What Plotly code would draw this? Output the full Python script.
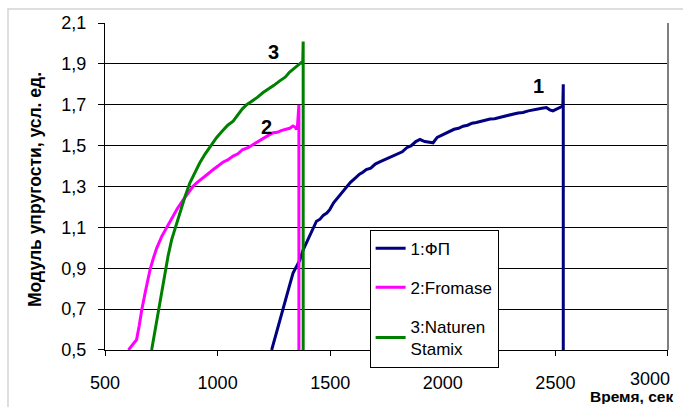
import plotly.graph_objects as go

# ---- data ----
s1_name = "1:ФП"
s1_x = [1240, 1255, 1270, 1284, 1300, 1318, 1335, 1350, 1365, 1380, 1395, 1410, 1425, 1439,
        1455, 1470, 1485, 1498, 1515, 1530, 1550, 1572, 1590, 1610, 1630, 1645, 1660, 1680,
        1700, 1720, 1740, 1760, 1779, 1800, 1820, 1840, 1860, 1880, 1899, 1920, 1940, 1957,
        1975, 1995, 2012, 2031, 2050, 2070, 2090, 2110, 2130, 2149, 2170, 2190, 2210, 2230,
        2252, 2275, 2295, 2315, 2335, 2356, 2380, 2400, 2420, 2440, 2460, 2475, 2489, 2505,
        2520, 2533, 2535, 2535]
s1_y = [0.50, 0.56, 0.62, 0.68, 0.75, 0.81, 0.876, 0.91, 0.94, 0.99, 1.024, 1.06, 1.10, 1.13,
        1.14, 1.16, 1.17, 1.187, 1.22, 1.24, 1.27, 1.30, 1.32, 1.34, 1.36, 1.37, 1.383, 1.39,
        1.41, 1.42, 1.43, 1.44, 1.449, 1.46, 1.47, 1.49, 1.50, 1.52, 1.53, 1.52, 1.515, 1.514,
        1.54, 1.55, 1.56, 1.572, 1.58, 1.585, 1.595, 1.60, 1.61, 1.613, 1.62, 1.625, 1.63, 1.632,
        1.637, 1.645, 1.65, 1.655, 1.66, 1.662, 1.67, 1.675, 1.68, 1.683, 1.686, 1.675, 1.67, 1.68,
        1.69, 1.694, 1.80, 0.50]

s2_name = "2:Fromase"
s2_x = [604, 620, 640, 652, 663, 680, 700, 715, 730, 752, 775, 796, 820, 848, 870, 890, 907,
        930, 955, 981, 1000, 1025, 1045, 1069, 1090, 1110, 1135, 1158, 1180, 1205, 1225, 1247,
        1265, 1285, 1306, 1320, 1335, 1345, 1350, 1355, 1361, 1361]
s2_y = [0.50, 0.52, 0.55, 0.62, 0.696, 0.79, 0.893, 0.95, 1.00, 1.056, 1.10, 1.146, 1.19, 1.236,
        1.27, 1.30, 1.318, 1.34, 1.36, 1.383, 1.40, 1.42, 1.43, 1.449, 1.46, 1.48, 1.49, 1.506,
        1.52, 1.535, 1.55, 1.563, 1.565, 1.575, 1.58, 1.585, 1.596, 1.59, 1.58, 1.60, 1.70, 0.50]

s3_name = "3:Naturen<br>Stamix"
s3_x = [707, 720, 736, 750, 766, 780, 796, 812, 833, 855, 877, 900, 921, 945, 970, 995, 1020,
        1045, 1069, 1090, 1110, 1129, 1150, 1175, 1202, 1225, 1250, 1276, 1300, 1320, 1335, 1355,
        1372, 1378, 1380, 1380]
s3_y = [0.50, 0.58, 0.68, 0.78, 0.876, 0.96, 1.04, 1.10, 1.17, 1.25, 1.318, 1.37, 1.416, 1.46,
        1.50, 1.539, 1.57, 1.60, 1.62, 1.65, 1.68, 1.70, 1.715, 1.735, 1.76, 1.775, 1.795, 1.817,
        1.835, 1.86, 1.874, 1.89, 1.907, 1.90, 2.01, 0.50]

x_ticks = [500, 1000, 1500, 2000, 2500, 3000]
x_ticktext = ["500", "1000", "1500", "2000", "2500", "3000"]
y_ticks = [0.5, 0.7, 0.9, 1.1, 1.3, 1.5, 1.7, 1.9, 2.1]
y_ticktext = ["0,5", "0,7", "0,9", "1,1", "1,3", "1,5", "1,7", "1,9", "2,1"]

labels_text = ["1", "2", "3"]
labels_x = [2427, 1219, 1246]
labels_y = [1.79, 1.59, 1.96]

x_title = "Время, сек"
y_title = "Модуль упругости, усл. ед."

FONT = "Liberation Sans, Arial, sans-serif"

fig = go.Figure()
for i, (nm, xs, ys, col) in enumerate([
        (s1_name, s1_x, s1_y, "#000080"),
        (s2_name, s2_x, s2_y, "#FF00FF"),
        (s3_name, s3_x, s3_y, "#008000")]):
    fig.add_trace(go.Scatter(x=xs, y=ys, mode="lines", name=nm, legendgroup=str(i),
                             line=dict(color=col, width=3)))

for t, xv, yv in zip(labels_text, labels_x, labels_y):
    fig.add_annotation(x=xv, y=yv, text="<b>%s</b>" % t, showarrow=False,
                       xanchor="center", yanchor="middle",
                       font=dict(family=FONT, size=20, color="black"))

# last x tick label is shifted left to stay inside the chart (as in the reference)
tick_text_shown = x_ticktext[:-1] + [""]
fig.add_annotation(x=x_ticks[-1], xref="x", yref="paper", y=-0.089, xanchor="right", yanchor="middle",
                   xshift=4, height=18, text=x_ticktext[-1], showarrow=False,
                   font=dict(family=FONT, size=18, color="black"))

fig.add_annotation(xref="paper", yref="paper", x=-0.124, y=0.49, xanchor="center", yanchor="middle",
                   text="<b>%s</b>" % y_title, textangle=-90, showarrow=False,
                   font=dict(family=FONT, size=17.5, color="black"))
fig.add_annotation(xref="paper", yref="paper", x=1.012, y=-0.172, xanchor="right", yanchor="bottom",
                   height=15, text="<b>%s</b>" % x_title, showarrow=False,
                   font=dict(family=FONT, size=15.5, color="black"))

# outer chart border and plot-area right border
fig.add_shape(type="rect", xref="paper", yref="paper", x0=-0.1723, x1=1.05, y0=-0.3, y1=1.0428,
              line=dict(color="#d4d4d4", width=1.5), layer="below")
fig.add_shape(type="line", xref="paper", yref="paper", x0=1, x1=1, y0=0, y1=1,
              line=dict(color="#808080", width=2))

fig.update_layout(
    width=683, height=407,
    margin=dict(l=105, r=15, t=23, b=57),
    paper_bgcolor="white", plot_bgcolor="white",
    font=dict(family=FONT, size=18, color="black"),
    showlegend=True,
    legend=dict(x=0.47, y=0.368, xanchor="left", yanchor="top",
                bgcolor="white", bordercolor="black", borderwidth=1,
                font=dict(family=FONT, size=17, color="black"),
                traceorder="grouped", tracegroupgap=14),
    xaxis=dict(range=[499.9, 3000.1], tickvals=x_ticks, ticktext=tick_text_shown,
               showgrid=False, zeroline=False, showline=True, linecolor="black", linewidth=1,
               ticks="outside", ticklen=5, tickcolor="black", ticklabelstandoff=11),
    yaxis=dict(range=[0.4999, 2.1001], tickvals=y_ticks, ticktext=y_ticktext,
               showgrid=True, gridcolor="black", gridwidth=1, zeroline=False,
               showline=True, linecolor="black", linewidth=1,
               ticks="outside", ticklen=6, tickcolor="black", ticklabelstandoff=8),
)

fig.write_html("out.html")
